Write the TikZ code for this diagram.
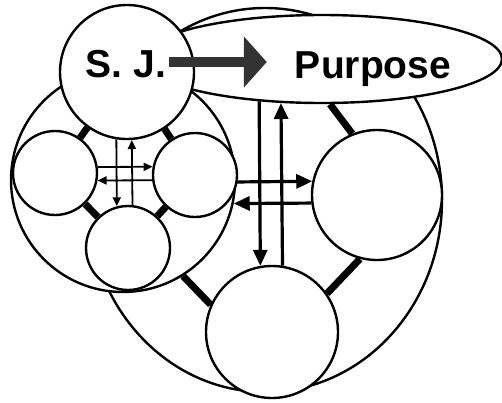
\documentclass[tikz,border=0pt]{standalone}
\usepackage{fontspec}
\setmainfont{Liberation Sans}
\usetikzlibrary{arrows.meta, shapes.geometric}
\frenchspacing

\begin{document}
\begin{tikzpicture}[x=1pt, y=-1pt,
    ring/.style={circle, draw, line width=2.4pt, fill=white, inner sep=0pt},
    oval/.style={ellipse, draw, line width=2.4pt, fill=white, inner sep=0pt},
    bond/.style={line width=7pt},
    flow/.style={line width=1.8pt, -{Triangle[length=9pt, width=8pt]}},
    bigflow/.style={line width=3.2pt, -{Triangle[length=16pt, width=14pt]}},
    lead/.style={line width=10pt, black!80, -{Triangle[length=23pt, width=50pt]}},
    word/.style={inner sep=0pt, anchor=base, font=\fontsize{39}{39}\selectfont\bfseries}
]
\useasboundingbox (0,0) rectangle (502,402);

% outer circles
\node[oval, minimum width=354pt, minimum height=384pt] (team) at (265,200) {};
\node[ring, minimum size=224pt] (group) at (123,180) {};

% left group
\node[ring, minimum size=84pt] (ls) at (55,173) {};
\node[ring, minimum size=84pt] (rs) at (195,175) {};
\node[ring, minimum size=84pt] (bs) at (128,248) {};

% right group
\node[ring, minimum size=130pt] (rm) at (377,195) {};
\node[ring, minimum size=132pt] (bm) at (272,332) {};
\node[oval, minimum width=360pt, minimum height=88pt] (purpose) at (322,59) {};
\node[ring, minimum size=134pt] (sj) at (127,72) {};

\node[word] (sjtext) at (126,77) {S. J.};
\node[word] (ptext) at (373,78) {Purpose};

% bonds
\draw[bond] (sj) -- (ls);
\draw[bond] (sj) -- (rs);
\draw[bond] (ls) -- (bs);
\draw[bond] (rs) -- (bs);
\draw[bond] (purpose.280) -- (rm.112);
\draw[bond] (rm.255) -- (bm.35);
\draw[bond] (bm.156) -- (group.302);

% arrows
\draw[flow] (ls.8) -- (rs.169);
\draw[flow] (rs.187) -- (ls.350);
\draw[flow] (sj.261) -- (bs.105);
\draw[flow] (bs.84) -- (sj.274);

\draw[bigflow] (group.359) -- (rm.168);
\draw[bigflow] (rm.187) -- (group.348);
\draw[bigflow] (purpose.214) -- (bm.100);
\draw[bigflow] (bm.81) -- (purpose.227);

\draw[lead] ([xshift=3pt,yshift=15pt]sjtext.base east) -- ([xshift=-28pt,yshift=16pt]ptext.base west);
\end{tikzpicture}
\end{document}
